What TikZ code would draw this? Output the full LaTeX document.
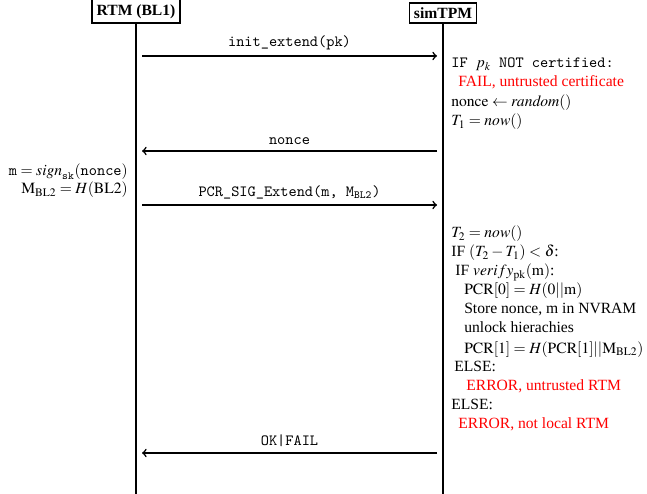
\documentclass[tikz,border=0pt]{standalone}
\usepackage{mathptmx}
\usepackage[no-math]{fontspec}
\setmainfont{Liberation Serif}
\usepackage{xcolor}
\begin{document}
\begin{tikzpicture}[x=0.641pt,y=-0.641pt,
  actor/.style={draw, line width=1pt, font=\bfseries, inner sep=3pt, anchor=south},
  life/.style={line width=1pt},
  msg/.style={line width=1pt, ->},
  lbl/.style={font=\ttfamily, above},
  txt/.style={anchor=base west, inner sep=0pt},
  ltxt/.style={anchor=base east, inner sep=0pt},
  err/.style={txt, text=red}]
\useasboundingbox (0,0) rectangle (647,494);
% actors and lifelines
\node[actor] (rtm) at (136,24) {RTM (BL1)};
\node[actor] (tpm) at (443,24) {simTPM};
\coordinate (rtmend) at (136,494);
\coordinate (tpmend) at (443,494);
\draw[life] (rtm.south) -- (rtmend);
\draw[life] (tpm.south) -- (tpmend);
% message end points
\coordinate (m1s) at (142,56);  \coordinate (m1e) at (437,56);
\coordinate (m2s) at (437,151); \coordinate (m2e) at (142,151);
\coordinate (m3s) at (142,205); \coordinate (m3e) at (437,205);
\coordinate (m4s) at (437,453); \coordinate (m4e) at (142,453);
\draw[msg] (m1s) -- node[lbl] (l1) {init\_extend(pk)} (m1e);
\draw[msg] (m2s) -- node[lbl] (l2) {nonce} (m2e);
\draw[msg] (m3s) -- node[lbl] (l3) {PCR\_SIG\_Extend(m, M$_{\mathtt{BL2}}$)} (m3e);
\draw[msg] (m4s) -- node[lbl] (l4) {OK|FAIL} (m4e);
% simTPM first block
\node[txt] (t1) at (451,68) {\texttt{IF }$p_k$\texttt{ NOT certified:}};
\node[err] (t2) at (458,87) {FAIL, untrusted certificate};
\node[txt] (t3) at (451,106.5) {$\mathrm{nonce}\leftarrow\mathit{random}()$};
\node[txt] (t4) at (451,126) {$T_1=\mathit{now}()$};
% RTM computations
\node[ltxt] (r1) at (128,176) {$\mathtt{m}=\mathit{sign}_{\mathtt{sk}}(\mathtt{nonce})$};
\node[ltxt] (r2) at (128,194) {$\mathrm{M}_{\mathrm{BL2}}=H(\mathrm{BL2})$};
% simTPM second block
\node[txt] (b1) at (451,238) {$T_2=\mathit{now}()$};
\node[txt] (b2) at (451,257) {IF $(T_2-T_1)<\delta$:};
\node[txt] (b3) at (455,276) {IF $verify_{\mathrm{pk}}(\mathrm{m})$:};
\node[txt] (b4) at (464,295) {$\mathrm{PCR}[0]=H(0||\mathrm{m})$};
\node[txt] (b5) at (464,314) {Store nonce, m in NVRAM};
\node[txt] (b6) at (464,333) {unlock hierachies};
\node[txt] (b7) at (464,353) {$\mathrm{PCR}[1]=H(\mathrm{PCR}[1]||\mathrm{M}_{\mathrm{BL2}})$};
\node[txt] (b8) at (454,371) {ELSE:};
\node[err] (b9) at (466,390) {ERROR, untrusted RTM};
\node[txt] (b10) at (451,409) {ELSE:};
\node[err] (b11) at (458,428) {ERROR, not local RTM};
\end{tikzpicture}
\end{document}
